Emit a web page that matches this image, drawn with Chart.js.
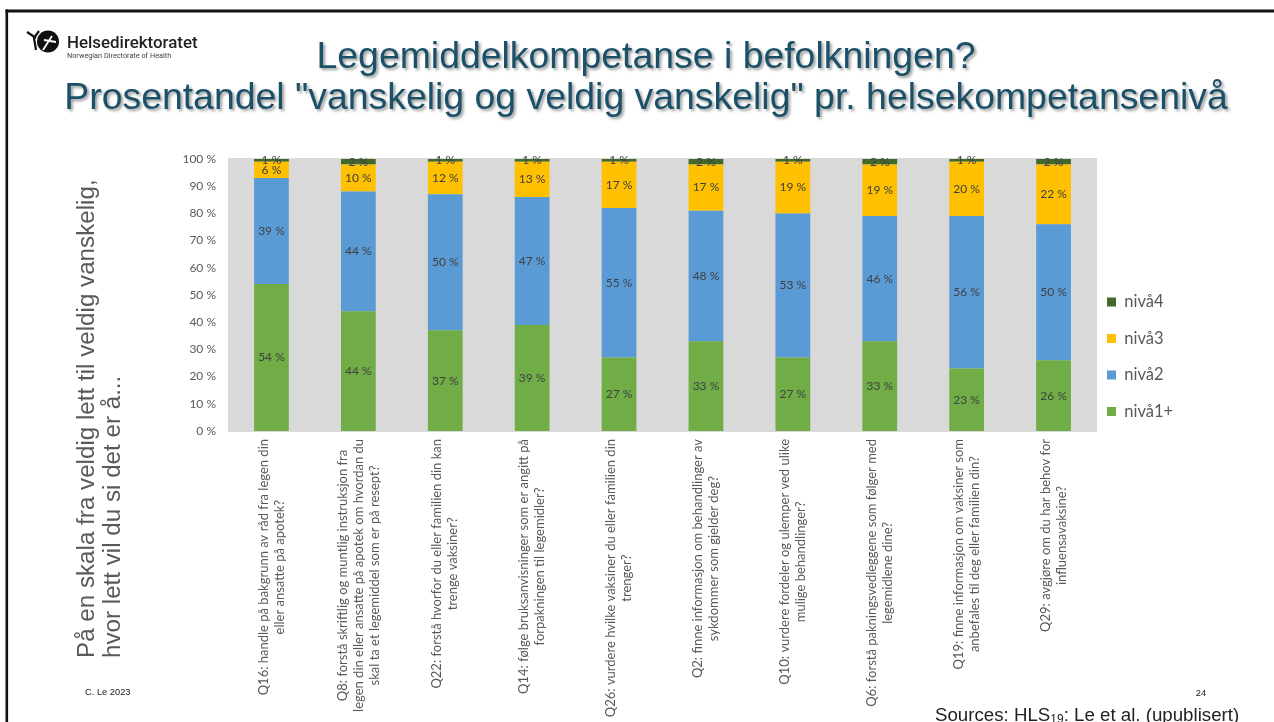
<!DOCTYPE html>
<html><head><meta charset="utf-8">
<style>html,body{margin:0;padding:0;background:#fff}canvas{display:block}</style>
<script src="https://cdn.jsdelivr.net/npm/chart.js@4"></script>
</head><body><canvas id="c" width="1274" height="722"></canvas>
<script>
const categories = [
 ["Q16: handle på bakgrunn av råd fra legen din","eller ansatte på apotek?"],
 ["Q8: forstå skriftlig og muntlig instruksjon fra","legen din eller ansatte på apotek om hvordan du","skal ta et legemiddel som er på resept?"],
 ["Q22: forstå hvorfor du eller familien din kan","trenge vaksiner?"],
 ["Q14: følge bruksanvisninger som er angitt på","forpakningen til legemidler?"],
 ["Q26: vurdere hvilke vaksiner du eller familien din","trenger?"],
 ["Q2: finne informasjon om behandlinger av","sykdommer som gjelder deg?"],
 ["Q10: vurdere fordeler og ulemper ved ulike","mulige behandlinger?"],
 ["Q6: forstå pakningsvedleggene som følger med","legemidlene dine?"],
 ["Q19: finne informasjon om vaksiner som","anbefales til deg eller familien din?"],
 ["Q29: avgjøre om du har behov for","influensavaksine?"]
];
const niva1 = [54,44,37,39,27,33,27,33,23,26];
const niva2 = [39,44,50,47,55,48,53,46,56,50];
const niva3 = [6,10,12,13,17,17,19,19,20,22];
const niva4 = [1,2,1,1,1,2,1,2,1,2];
const titleLines = ['Legemiddelkompetanse i befolkningen?','Prosentandel "vanskelig og veldig vanskelig" pr. helsekompetansenivå'];
const yNote = ['På en skala fra veldig lett til veldig vanskelig,','hvor lett vil du si det er å...'];

const GREY='#595959';
const slide = {
 id:'slide',
 afterLayout(ch){
  const t=ch.titleBlock; t.left=18; t.right=1274;
  const l=ch.legend; l.left=1087; l.right=1274; l.top=273.75; l.bottom=450; l.width=187; l.height=176.25;
 },
 beforeDraw(ch){
  const c=ch.ctx, a=ch.chartArea;
  c.save();
  c.fillStyle='#fff'; c.fillRect(0,0,1274,722);
  c.fillStyle='#d9d9d9'; c.fillRect(a.left,a.top-1,a.right-a.left,a.bottom-a.top+2);
  c.restore();
  const t=ch.titleBlock;
  if(!t._wrapped){ const o=t.draw; t.draw=function(){c.save();c.shadowColor='rgba(0,0,0,.4)';c.shadowBlur=3;c.shadowOffsetX=2;c.shadowOffsetY=2;o.apply(t,arguments);c.restore();}; t._wrapped=true; }
 },
 afterDraw(ch){
  const c=ch.ctx;
  c.save();
  c.fillStyle='#111';
  c.fillRect(5.5,9.5,1268.5,3); c.fillRect(5.5,9.5,2.6,712.5);
  // logo
  c.beginPath(); c.arc(48,41.5,11,0,Math.PI*2); c.fill();
  c.strokeStyle='#111'; c.lineWidth=2.2; c.beginPath(); c.moveTo(27,32); c.lineTo(36,38); c.moveTo(39,31); c.lineTo(34,38); c.lineTo(36,50); c.stroke();
  c.strokeStyle='#fff'; c.lineWidth=1.8; c.beginPath(); c.moveTo(43,50); c.lineTo(52,36); c.moveTo(44,40); c.lineTo(56,42); c.stroke();
  c.textBaseline='alphabetic'; c.textAlign='left'; c.fillStyle='#222';
  c.font='500 16.9px Roboto'; c.fillText('Helsedirektoratet',67,47.5);
  c.font='7.3px Roboto'; c.fillStyle='#444'; c.fillText('Norwegian Directorate of Health',67,58);
  c.fillStyle='#222'; c.font='9.3px "Liberation Sans"'; c.fillText('C. Le 2023',85,695);
  c.textAlign='center'; c.fillText('24',1201,696);
  c.textAlign='left'; c.font='18.7px "Liberation Sans"'; c.fillText('Sources: HLS',935,720.5);
  let x=935+c.measureText('Sources: HLS').width;
  c.font='12px "Liberation Sans"'; c.fillText('19',x,722.5); x+=c.measureText('19').width;
  c.font='18.7px "Liberation Sans"'; c.fillText(': Le et al. (upublisert)',x,720.5);
  // y note
  c.font='24.2px "Liberation Sans"'; c.fillStyle=GREY; c.textAlign='left'; c.textBaseline='middle';
  c.save(); c.translate(87,658); c.rotate(-Math.PI/2); c.fillText(yNote[0],0,0); c.restore();
  c.save(); c.translate(113,658); c.rotate(-Math.PI/2); c.fillText(yNote[1],0,0); c.restore();
  c.restore();
 },
 afterDatasetsDraw(ch){
  const c=ch.ctx;
  c.save(); c.font='12px Lato'; c.fillStyle='#404040'; c.textAlign='center'; c.textBaseline='middle';
  ch.data.datasets.forEach((d,i)=>{ ch.getDatasetMeta(i).data.forEach((b,j)=>{
    c.fillText(d.data[j]+' %', b.x, (b.y+b.base)/2);
  });});
  c.restore();
 }
};
new Chart(document.getElementById('c'),{
 type:'bar',
 data:{labels:categories,datasets:[
  {label:'nivå1+',data:niva1,backgroundColor:'#70ad47'},
  {label:'nivå2',data:niva2,backgroundColor:'#5b9bd5'},
  {label:'nivå3',data:niva3,backgroundColor:'#ffc000'},
  {label:'nivå4',data:niva4,backgroundColor:'#43682b'}
 ]},
 plugins:[slide],
 options:{
  responsive:false,animation:false,
  layout:{padding:{top:14,left:0,right:177,bottom:0}},
  datasets:{bar:{barPercentage:0.4,categoryPercentage:1}},
  plugins:{
   tooltip:{enabled:false},
   title:{display:true,text:titleLines,color:'#1b5069',font:{family:'"Liberation Sans"',size:37.4,weight:'normal',lineHeight:1.1},padding:{top:23.4,bottom:39.3}},
   legend:{position:'chartArea',align:'start',reverse:true,labels:{boxWidth:9,boxHeight:9,padding:20,color:GREY,font:{family:'Lato',size:16.5}}}
  },
  scales:{
   x:{stacked:true,grid:{display:false},border:{display:false},
      afterFit(s){s.height=291;},
      afterUpdate(s){
        const orig=s._computeLabelItems;
        s._computeLabelItems=function(ca){
          const items=orig.call(this,ca);
          const ctx=this.ctx;
          items.forEach(it=>{
            ctx.save(); ctx.font=it.options.font?it.options.font.string:'13px Lato';
            const lines=[].concat(it.label);
            const L=Math.max(...lines.map(t=>ctx.measureText(t).width)); ctx.restore();
            it.options.textAlign='center';
            const tr=it.options.translation;
            it.options.translation=[tr[0]-(lines.length-1)*8,439+L/2];
          });
          return items;
        };
      },
      ticks:{autoSkip:false,maxRotation:90,minRotation:90,padding:6,color:GREY,font:{family:'Lato',size:13,lineHeight:1.23}}},
   y:{stacked:true,min:0,max:100,grid:{display:false},border:{display:false},
      afterFit(s){s.width=228;},
      ticks:{stepSize:10,padding:4,color:GREY,font:{family:'Lato',size:12},callback:v=>v+' %'}}
  }
 }
});
</script></body></html>
